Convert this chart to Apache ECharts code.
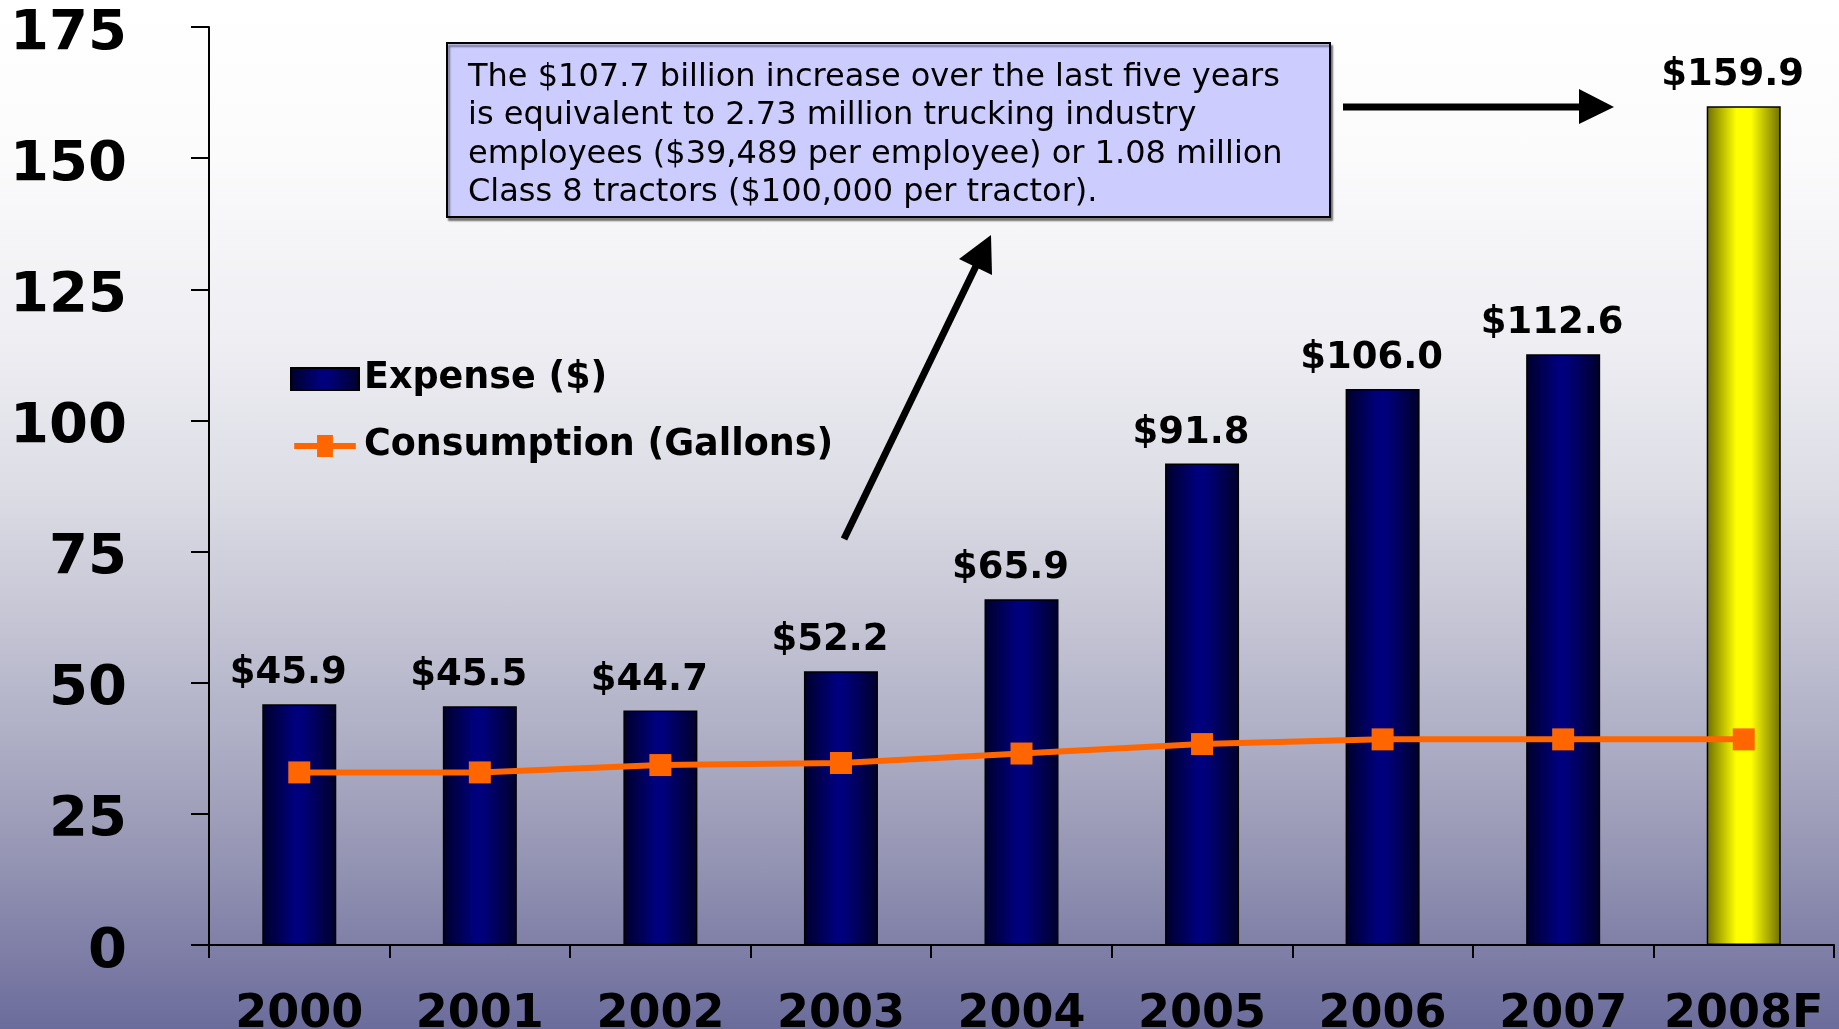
<!DOCTYPE html>
<html>
<head>
<meta charset="utf-8">
<script src="https://cdn.jsdelivr.net/npm/echarts@6/dist/echarts.min.js"></script>
<style>
  html, body { margin: 0; padding: 0; }
  #chart {
    width: 1839px;
    height: 1029px;
    background: linear-gradient(to bottom, #ffffff 0%, #fbfbfc 15%, #eeeef3 33%, #dcdce5 48%, #bcbccf 65%, #9d9db9 80%, #6c6c9c 100%);
  }
</style>
</head>
<body>
<div id="chart"></div>
<script>
// data
const years = ['2000', '2001', '2002', '2003', '2004', '2005', '2006', '2007', '2008F']
const expense = [45.9, 45.5, 44.7, 52.2, 65.9, 91.8, 106.0, 112.6, 159.9]
const consumption = [32.9, 32.9, 34.3, 34.7, 36.5, 38.3, 39.2, 39.2, 39.2]
const yTicks = [0, 25, 50, 75, 100, 125, 150, 175]
const note = [
  'The $107.7 billion increase over the last five years',
  'is equivalent to 2.73 million trucking industry',
  'employees ($39,489 per employee) or 1.08 million',
  'Class 8 tractors ($100,000 per tractor).',
]

const navy = new echarts.graphic.LinearGradient(0, 0, 1, 0, [
  { offset: 0, color: '#00002a' },
  { offset: 0.45, color: '#000080' },
  { offset: 0.55, color: '#00007a' },
  { offset: 1, color: '#00002a' },
])
const yellow = new echarts.graphic.LinearGradient(0, 0, 1, 0, [
  { offset: 0, color: '#6e6e00' },
  { offset: 0.4, color: '#ffff00' },
  { offset: 0.6, color: '#ffff00' },
  { offset: 1, color: '#6e6e00' },
])

// legend icon: thick line with a square in the middle
const lineIcon = 'path://M0,9 L26,9 L26,0 L44,0 L44,9 L70,9 L70,16 L44,16 L44,25 L26,25 L26,16 L0,16 Z'

const myChart = echarts.init(document.getElementById('chart'))

const option = {
  backgroundColor: 'transparent',
  animation: false,
  grid: { left: 209, right: 5, top: 27, bottom: 84, outerBoundsMode: 'none', containLabel: false },
  legend: {
    orient: 'vertical',
    left: 285,
    top: 354,
    itemWidth: 68,
    itemHeight: 22,
    itemGap: 27,
    data: [
      { name: 'Expense ($)', icon: 'rect' },
      { name: 'Consumption (Gallons)', icon: lineIcon, itemStyle: { color: '#ff6600' } },
    ],
    textStyle: {
      color: '#000',
      fontFamily: 'DejaVu Sans',
      fontWeight: 'bold',
      fontSize: 36.5,
      lineHeight: 40,
    },
  },
  xAxis: {
    type: 'category',
    data: years,
    axisLine: { lineStyle: { color: '#000', width: 2 } },
    axisTick: { show: true, interval: 0, length: 13, lineStyle: { color: '#000', width: 2 } },
    axisLabel: {
      interval: 0,
      color: '#000',
      fontFamily: 'DejaVu Sans',
      fontWeight: 'bold',
      fontSize: 46,
      margin: 47,
    },
  },
  yAxis: {
    type: 'value',
    min: yTicks[0],
    max: yTicks[yTicks.length - 1],
    interval: 25,
    splitLine: { show: false },
    axisLine: { show: true, lineStyle: { color: '#000', width: 2 } },
    axisTick: { show: true, length: 18, lineStyle: { color: '#000', width: 2 } },
    axisLabel: {
      margin: 82,
      formatter: '{v|{value}}',
      rich: {
        v: {
          color: '#000',
          fontFamily: 'DejaVu Sans',
          fontWeight: 'bold',
          fontSize: 56,
          padding: [14, 0, 0, 0],
        },
      },
    },
  },
  series: [
    {
      name: 'Expense ($)',
      type: 'bar',
      barWidth: 74,
      itemStyle: { color: navy, borderColor: '#000', borderWidth: 1.5 },
      label: {
        show: true,
        position: 'top',
        distance: 12,
        offset: [-11, 0],
        color: '#000',
        fontFamily: 'DejaVu Sans',
        fontWeight: 'bold',
        fontSize: 37,
        formatter: (p) => '$' + p.value.toFixed(1),
      },
      data: expense.map((v, i) =>
        i === expense.length - 1 ? { value: v, itemStyle: { color: yellow } } : v
      ),
    },
    {
      name: 'Consumption (Gallons)',
      type: 'line',
      symbol: 'rect',
      symbolSize: 22,
      lineStyle: { color: '#ff6600', width: 6 },
      itemStyle: { color: '#ff6600' },
      data: consumption,
    },
  ],
  graphic: [
    {
      type: 'rect',
      shape: { x: 447, y: 43, width: 883, height: 174 },
      style: {
        fill: '#ccccff',
        stroke: '#000',
        lineWidth: 2,
        shadowColor: 'rgba(0,0,0,0.45)',
        shadowOffsetX: 2,
        shadowOffsetY: 3,
        shadowBlur: 2,
      },
    },
    {
      type: 'text',
      style: {
        x: 468,
        y: 58,
        text: note.join('\n'),
        font: '32px "DejaVu Sans"',
        lineHeight: 38.5,
        fill: '#000',
        verticalAlign: 'top',
      },
    },
    // arrow to the 2008F bar
    {
      type: 'line',
      shape: { x1: 1343, y1: 107, x2: 1582, y2: 107 },
      style: { stroke: '#000', lineWidth: 7 },
    },
    {
      type: 'polygon',
      shape: { points: [[1614, 107], [1579, 89], [1579, 124]] },
      style: { fill: '#000' },
    },
    // arrow from the 2003 area up to the box
    {
      type: 'line',
      shape: { x1: 844, y1: 539, x2: 977, y2: 264 },
      style: { stroke: '#000', lineWidth: 7 },
    },
    {
      type: 'polygon',
      shape: { points: [[991, 235], [959, 259], [992, 275]] },
      style: { fill: '#000' },
    },
  ],
}

myChart.setOption(option)
</script>
</body>
</html>
